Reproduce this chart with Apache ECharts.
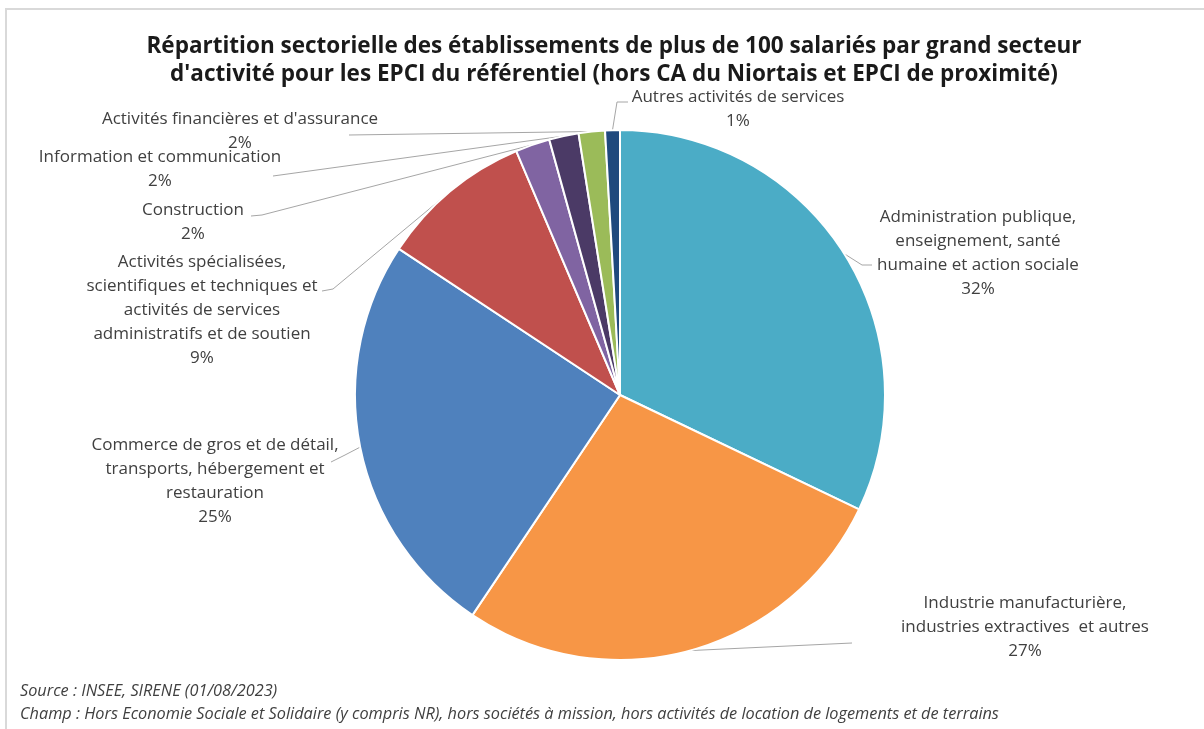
<!DOCTYPE html>
<html>
<head>
<meta charset="utf-8">
<style>
  html, body { margin: 0; padding: 0; background: #ffffff; }
  #chart { width: 1204px; height: 729px; }
</style>
<script src="https://cdn.jsdelivr.net/npm/echarts@6/dist/echarts.min.js"></script>
</head>
<body>
<div id="chart"></div>
<script>
// Sectors, in clockwise order from 12 o'clock
const sectors = [
  'Administration publique,\nenseignement, santé\nhumaine et action sociale',
  'Industrie manufacturière,\nindustries extractives  et autres',
  'Commerce de gros et de détail,\ntransports, hébergement et\nrestauration',
  'Activités spécialisées,\nscientifiques et techniques et\nactivités de services\nadministratifs et de soutien',
  'Construction',
  'Information et communication',
  'Activités financières et d\'assurance',
  'Autres activités de services'
];

// Share of establishments with more than 100 employees (%)
const shares = [32.1, 27.3, 24.9, 9.3, 2.1, 1.8, 1.6, 0.9];

const sliceColors = ['#4BACC6', '#F79646', '#4F81BD', '#C0504D', '#8064A2', '#4B3A66', '#9BBB59', '#1F497D'];

const titleText = 'Répartition sectorielle des établissements de plus de 100 salariés par grand secteur\nd\'activité pour les EPCI du référentiel (hors CA du Niortais et EPCI de proximité)';
const sourceText = 'Source : INSEE, SIRENE (01/08/2023)';
const scopeText = 'Champ : Hors Economie Sociale et Solidaire (y compris NR), hors sociétés à mission, hors activités de location de logements et de terrains';

// Label placement: top-centre of each text block and the leader line path
// (bend point, end point next to the text)
const labelSpots = [
  { x: 978,  y: 205, bend: [862, 265], end: [872, 265] },
  { x: 1025, y: 591, bend: [852, 643], end: [852, 643] },
  { x: 215,  y: 433, bend: [345, 455], end: [331, 462] },
  { x: 202,  y: 250, bend: [333, 289], end: [322, 291] },
  { x: 193,  y: 198, bend: [262, 215], end: [251, 216] },
  { x: 160,  y: 145, bend: [273, 176], end: [273, 176] },
  { x: 240,  y: 107, bend: [349, 135], end: [349, 135] },
  { x: 738,  y: 85,  bend: [617, 102], end: [628, 102] }
];

const FONT = '"Open Sans", Lato, sans-serif';

const chart = echarts.init(document.getElementById('chart'), null, { renderer: 'canvas' });

const option = {
  animation: false,
  backgroundColor: '#ffffff',
  graphic: [
    {
      type: 'rect', silent: true, z: -10,
      shape: { x: 6, y: 9, width: 1230, height: 760 },
      style: { fill: 'none', stroke: '#d9d9d9', lineWidth: 2 }
    },
    {
      type: 'text', x: 614, y: 33,
      style: {
        text: titleText, align: 'center', verticalAlign: 'top',
        font: 'bold 22.5px ' + FONT, lineHeight: 28, fill: '#1a1a1a'
      }
    },
    {
      type: 'text', x: 20, y: 691,
      style: {
        text: sourceText, align: 'left', verticalAlign: 'middle',
        font: 'italic 16.3px ' + FONT, fill: '#404040'
      }
    },
    {
      type: 'text', x: 20, y: 714,
      style: {
        text: scopeText, align: 'left', verticalAlign: 'middle',
        font: 'italic 16.3px ' + FONT, fill: '#404040'
      }
    }
  ],
  series: [
    {
      type: 'pie',
      center: [620, 395],
      radius: [0, 265],
      startAngle: 90,
      clockwise: true,
      avoidLabelOverlap: false,
      itemStyle: { borderColor: '#ffffff', borderWidth: 2 },
      label: {
        show: true,
        position: 'outside',
        color: '#404040',
        fontFamily: FONT,
        fontSize: 17,
        lineHeight: 24,
        align: 'center',
        formatter: function (p) { return p.name + '\n' + Math.round(p.percent) + '%'; }
      },
      labelLine: {
        show: true,
        length: 10,
        length2: 10,
        lineStyle: { color: '#a6a6a6', width: 1 }
      },
      labelLayout: function (params) {
        const spot = labelSpots[params.dataIndex];
        const start = params.labelLinePoints ? params.labelLinePoints[0] : spot.bend;
        return {
          x: spot.x,
          y: spot.y,
          align: 'center',
          verticalAlign: 'top',
          labelLinePoints: [start, spot.bend, spot.end]
        };
      },
      emphasis: { disabled: true },
      data: sectors.map(function (name, i) {
        return { name: name, value: shares[i], itemStyle: { color: sliceColors[i] } };
      })
    }
  ]
};

chart.setOption(option);
</script>
</body>
</html>
